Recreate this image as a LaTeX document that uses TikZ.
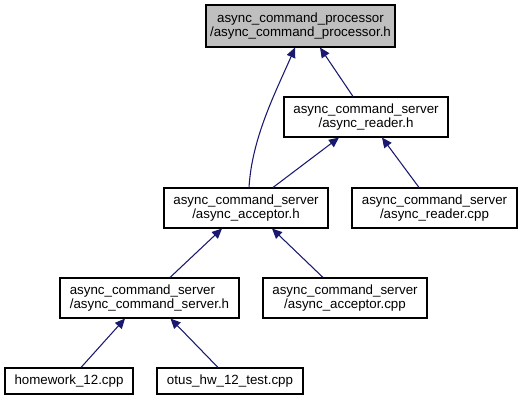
\documentclass[tikz,border=0pt]{standalone}
\usepackage{fontspec}
\setmainfont{Liberation Sans}
\usetikzlibrary{arrows.meta}
\definecolor{edgeblue}{HTML}{191970}
\definecolor{topgray}{HTML}{BFBFBF}
\def\u{0.75pt}
\tikzset{
  filebox/.style={draw=black, line width=0.8pt, fill=white, inner sep=0pt, align=center,
    font=\fontsize{10}{10.5}\selectfont, minimum height=40*\u},
  dep/.style={draw=edgeblue, line width=0.8pt, -{Triangle[length=10*\u,width=9*\u]}}
}
\begin{document}
\begin{tikzpicture}[x=0.75pt,y=-0.75pt]
\useasboundingbox (0,0) rectangle (521,400);
\node[filebox, fill=topgray, minimum width=189*\u, minimum height=42*\u] (top) at (300.5,26)
  {async\_command\_processor\\/async\_command\_processor.h};
\node[filebox, minimum width=164*\u] (readerh) at (366,117)
  {async\_command\_server\\/async\_reader.h};
\node[filebox, minimum width=164*\u] (accepth) at (246,208)
  {async\_command\_server\\/async\_acceptor.h};
\node[filebox, minimum width=165*\u] (readercpp) at (434.5,208)
  {async\_command\_server\\/async\_reader.cpp};
\node[filebox, minimum width=179*\u, align=left] (serverh) at (149.5,298)
  {async\_command\_server\\/async\_command\_server.h};
\node[filebox, minimum width=164*\u] (acceptcpp) at (345,298)
  {async\_command\_server\\/async\_acceptor.cpp};
\node[filebox, minimum width=128*\u, minimum height=26*\u] (homework) at (69,381)
  {homework\_12.cpp};
\node[filebox, minimum width=146*\u, minimum height=26*\u] (otus) at (230,381)
  {otus\_hw\_12\_test.cpp};

\draw[dep] ([xshift=3*\u]accepth.north) .. controls ([xshift=6*\u,yshift=50*\u]accepth.north) and ([xshift=-25*\u,yshift=-45*\u]top.south) .. ([xshift=-5.5*\u]top.south);
\draw[dep] ([xshift=-13*\u]readerh.north) -- ([xshift=19.5*\u]top.south);
\draw[dep] ([xshift=27*\u]accepth.north) -- ([xshift=-27*\u]readerh.south);
\draw[dep] ([xshift=-15.5*\u]readercpp.north) -- ([xshift=16*\u]readerh.south);
\draw[dep] ([xshift=20.5*\u]serverh.north) -- ([xshift=-24*\u]accepth.south);
\draw[dep] ([xshift=-22*\u]acceptcpp.north) -- ([xshift=26*\u]accepth.south);
\draw[dep] ([xshift=12*\u]homework.north) -- ([xshift=-24.5*\u]serverh.south);
\draw[dep] ([xshift=-12*\u]otus.north) -- ([xshift=21*\u]serverh.south);
\end{tikzpicture}
\end{document}
